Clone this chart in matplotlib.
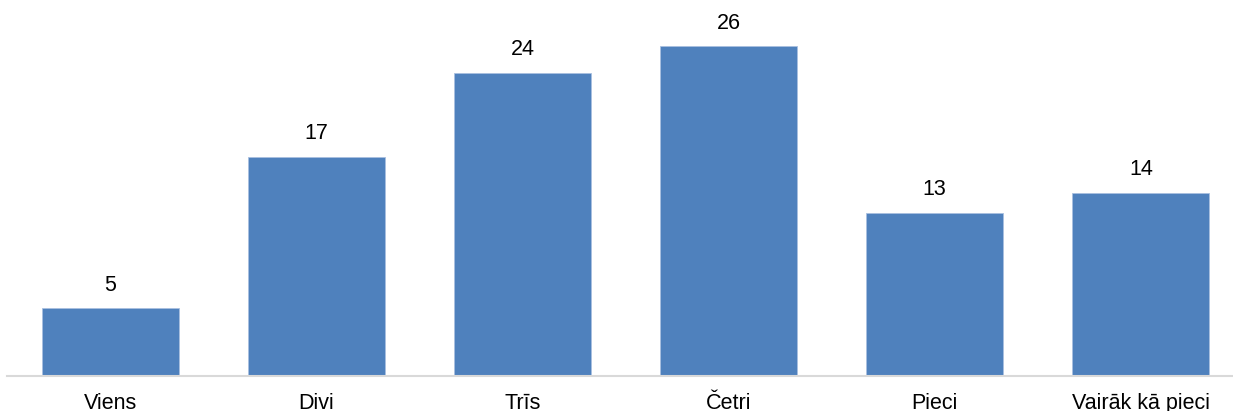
import matplotlib.pyplot as plt

# Values (bar heights; labels show them rounded)
categories = ["Viens", "Divi", "Trīs", "Četri", "Pieci", "Vairāk kā pieci"]
values = [5.34, 17.26, 23.89, 26.0, 12.85, 14.42]
labels = [str(round(v)) for v in values]

plt.rcParams['font.family'] = ['Liberation Sans', 'DejaVu Sans']

fig = plt.figure(figsize=(12.33, 4.11), dpi=100)
# axis baseline sits at y=376 px, the slots run a little past the right edge
ax = fig.add_axes([7 / 1233, 1 - 376 / 411, 1237 / 1233, 376 / 411])

x = range(len(categories))
bars = ax.bar(x, values, width=0.664, color='#4f81bd', edgecolor='#a9c0e0', linewidth=0.6)

for b, v, lab in zip(bars, values, labels):
    ax.annotate(lab, (b.get_x() + b.get_width() / 2, v),
                xytext=(0, 9), textcoords='offset points',
                ha='center', va='bottom', fontsize=15.5)

ax.set_xlim(-0.5, len(categories) - 0.5)
ax.set_ylim(0, 26 * 376 / 330)
ax.set_xticks(list(x))
ax.set_xticklabels(categories, fontsize=15.5)
ax.tick_params(axis='x', length=0, pad=12)
ax.set_yticks([])

for side in ['top', 'right', 'left']:
    ax.spines[side].set_visible(False)
ax.spines['bottom'].set_color('#d9d9d9')
ax.spines['bottom'].set_linewidth(1.5)

fig.savefig("out.png", dpi=100)
